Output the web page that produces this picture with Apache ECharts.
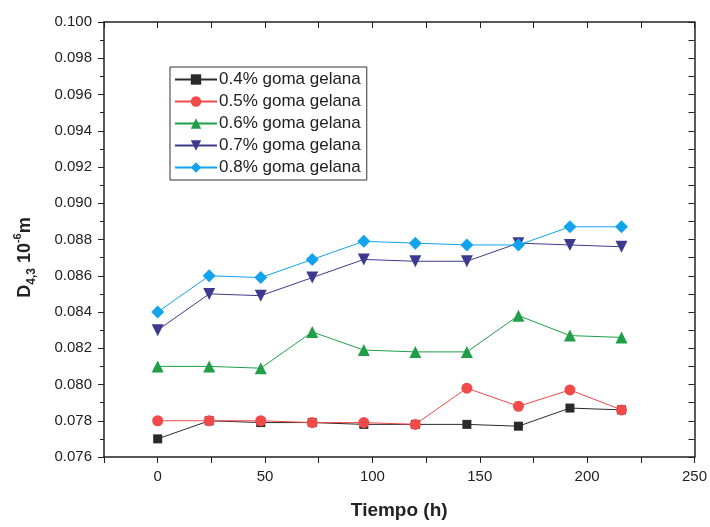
<!DOCTYPE html>
<html>
<head>
<meta charset="utf-8">
<script src="https://cdn.jsdelivr.net/npm/echarts@6/dist/echarts.min.js"></script>
<style>
  html, body { margin: 0; padding: 0; background: #fff; }
  #chart { width: 710px; height: 527px; }
</style>
</head>
<body>
<div id="chart"></div>
<script>
// tiempos de muestreo (h)
const tiempo = [0, 24, 48, 72, 96, 120, 144, 168, 192, 216]

// D4,3 (10^-6 m) por concentración
const goma04 = [0.0770, 0.0780, 0.0779, 0.0779, 0.0778, 0.0778, 0.0778, 0.0777, 0.0787, 0.0786]
const goma05 = [0.0780, 0.0780, 0.0780, 0.0779, 0.0779, 0.0778, 0.0798, 0.0788, 0.0797, 0.0786]
const goma06 = [0.0810, 0.0810, 0.0809, 0.0829, 0.0819, 0.0818, 0.0818, 0.0838, 0.0827, 0.0826]
const goma07 = [0.0830, 0.0850, 0.0849, 0.0859, 0.0869, 0.0868, 0.0868, 0.0878, 0.0877, 0.0876]
const goma08 = [0.0840, 0.0860, 0.0859, 0.0869, 0.0879, 0.0878, 0.0877, 0.0877, 0.0887, 0.0887]

const nombres = ['0.4% goma gelana', '0.5% goma gelana', '0.6% goma gelana', '0.7% goma gelana', '0.8% goma gelana']

const font = 'Liberation Sans, Arial, sans-serif'
const axisLine = { show: true, onZero: false, lineStyle: { color: '#222', width: 1.5 } }

const makeSeries = (name, values, symbol, color, size, rotate) => ({
    name,
    type: 'line',
    data: tiempo.map((t, i) => [t, values[i]]),
    symbol,
    symbolSize: size,
    symbolRotate: rotate || 0,
    itemStyle: { color },
    lineStyle: { color, width: 1 },
    z: 3
})

const chart = echarts.init(document.getElementById('chart'))

chart.setOption({
    backgroundColor: '#fff',
    animation: false,
    grid: { left: 104, right: 13, top: 22, bottom: 70 },
    legend: {
        orient: 'vertical',
        left: 170,
        top: 67,
        data: nombres,
        itemWidth: 42,
        itemHeight: 13,
        itemGap: 5,
        padding: [4, 6, 4, 4],
        borderColor: '#333',
        borderWidth: 1,
        backgroundColor: '#fff',
        textStyle: { fontFamily: font, fontSize: 17, color: '#222', padding: [0, 0, 0, -3] }
    },
    xAxis: [{
        type: 'value',
        min: -25,
        max: 250,
        interval: 25,
        name: 'Tiempo (h)',
        nameLocation: 'middle',
        nameGap: 44,
        nameTextStyle: { fontFamily: font, fontSize: 19, fontWeight: 'bold', color: '#222' },
        axisLine,
        axisTick: { show: true, inside: false, length: 6, lineStyle: { color: '#222' } },
        axisLabel: {
            fontFamily: font, fontSize: 15, color: '#222', margin: 12,
            formatter: v => (v >= 0 && v % 50 === 0) ? String(v) : ''
        },
        splitLine: { show: false }
    }, {
        type: 'value',
        position: 'top',
        min: -25,
        max: 250,
        interval: 25,
        axisLine,
        axisTick: { show: true, inside: true, length: 6, lineStyle: { color: '#222' } },
        axisLabel: { show: false },
        splitLine: { show: false }
    }],
    yAxis: [{
        type: 'value',
        min: 0.076,
        max: 0.100,
        interval: 0.002,
        name: '{b|D}{sub|4,3}{b| 10}{sup|-6}{b|m}',
        nameLocation: 'middle',
        nameGap: 66,
        nameRotate: 90,
        nameTextStyle: {
            padding: [0, 36, 0, 0],
            rich: {
                b: { fontFamily: font, fontSize: 18, fontWeight: 'bold', color: '#222', lineHeight: 26, verticalAlign: 'middle' },
                sub: { fontFamily: font, fontSize: 12, fontWeight: 'bold', color: '#222', lineHeight: 26, verticalAlign: 'bottom' },
                sup: { fontFamily: font, fontSize: 11, fontWeight: 'bold', color: '#222', lineHeight: 26, verticalAlign: 'top' }
            }
        },
        axisLine,
        axisTick: { show: true, inside: false, length: 6, lineStyle: { color: '#222' } },
        minorTick: { show: true, splitNumber: 2, length: 4, lineStyle: { color: '#222' } },
        axisLabel: {
            fontFamily: font, fontSize: 15, color: '#222', margin: 12,
            formatter: v => v.toFixed(3)
        },
        splitLine: { show: false }
    }, {
        type: 'value',
        position: 'right',
        min: 0.076,
        max: 0.100,
        interval: 0.002,
        axisLine,
        axisTick: { show: true, inside: true, length: 6, lineStyle: { color: '#222' } },
        minorTick: { show: true, splitNumber: 2, length: 6, lineStyle: { color: '#222' } },
        axisLabel: { show: false },
        splitLine: { show: false }
    }],
    series: [
        makeSeries(nombres[0], goma04, 'rect', '#2a2a2a', 9),
        makeSeries(nombres[1], goma05, 'circle', '#f04a4a', 11),
        makeSeries(nombres[2], goma06, 'triangle', '#1fa048', 12),
        makeSeries(nombres[3], goma07, 'triangle', '#3b3a8e', 12, 180),
        makeSeries(nombres[4], goma08, 'diamond', '#12a3ee', 13)
    ]
})
</script>
</body>
</html>
